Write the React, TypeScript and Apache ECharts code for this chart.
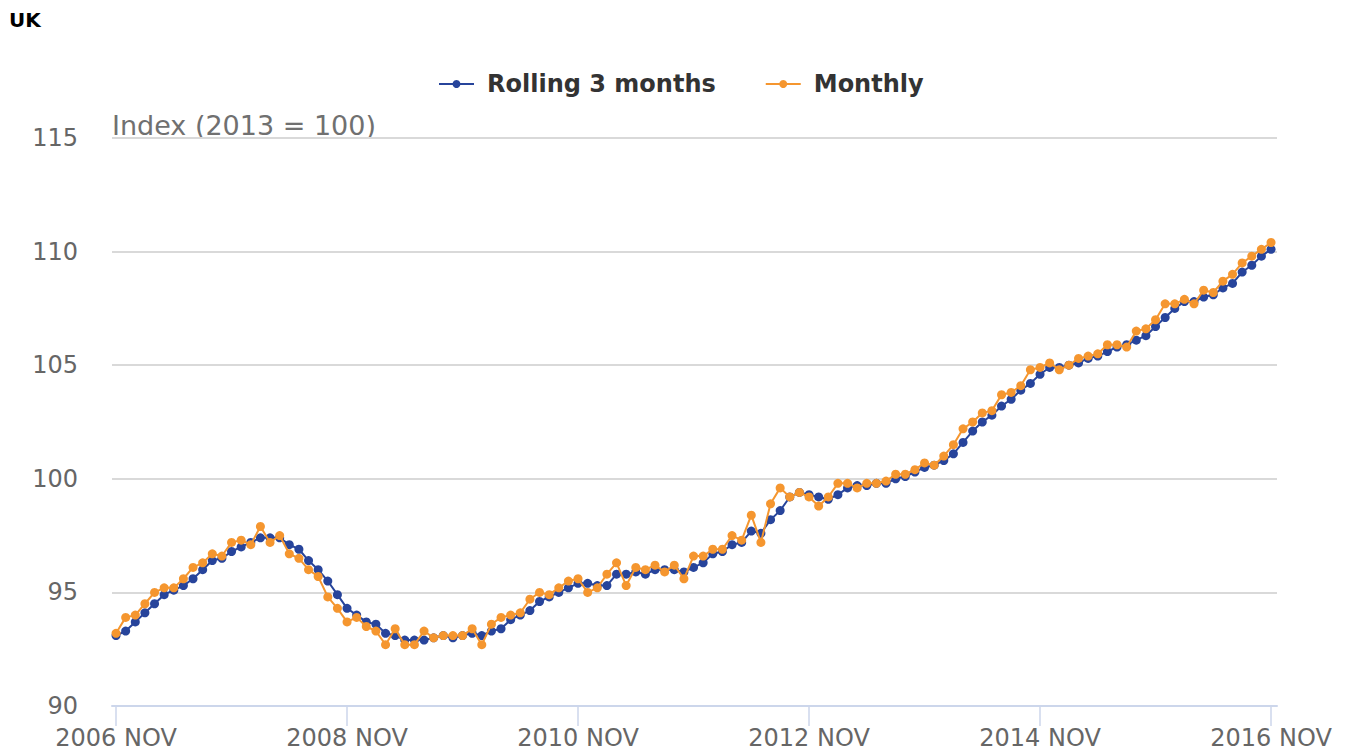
import React, { useEffect, useRef } from "react";
import * as echarts from "echarts";

const MONTHS = ["JAN", "FEB", "MAR", "APR", "MAY", "JUN", "JUL", "AUG", "SEP", "OCT", "NOV", "DEC"];
const START_YEAR = 2006;
const START_MONTH = 10; // NOV
const POINT_COUNT = 121;

const categories: string[] = Array.from({ length: POINT_COUNT }, (_, i) => {
  const m = START_MONTH + i;
  return `${START_YEAR + Math.floor(m / 12)} ${MONTHS[m % 12]}`;
});

const rolling3Months = [
  93.1, 93.3, 93.7, 94.1, 94.5, 94.9, 95.1, 95.3, 95.6, 96.0,
  96.4, 96.5, 96.8, 97.0, 97.2, 97.4, 97.4, 97.4, 97.1, 96.9,
  96.4, 96.0, 95.5, 94.9, 94.3, 94.0, 93.7, 93.6, 93.2, 93.1,
  92.9, 92.9, 92.9, 93.0, 93.1, 93.0, 93.1, 93.2, 93.1, 93.3,
  93.4, 93.8, 94.0, 94.2, 94.6, 94.8, 95.0, 95.2, 95.4, 95.4,
  95.3, 95.3, 95.8, 95.8, 95.9, 95.8, 96.0, 96.0, 96.0, 95.9,
  96.1, 96.3, 96.7, 96.8, 97.1, 97.2, 97.7, 97.6, 98.2, 98.6,
  99.2, 99.4, 99.3, 99.2, 99.1, 99.3, 99.6, 99.7, 99.7, 99.8,
  99.8, 100.0, 100.1, 100.3, 100.5, 100.6, 100.8, 101.1, 101.6, 102.1,
  102.5, 102.8, 103.2, 103.5, 103.9, 104.2, 104.6, 104.9, 104.9, 105.0,
  105.1, 105.3, 105.4, 105.6, 105.8, 105.9, 106.1, 106.3, 106.7, 107.1,
  107.5, 107.8, 107.8, 108.0, 108.1, 108.4, 108.6, 109.1, 109.4, 109.8,
  110.1,
];

const monthly = [
  93.2, 93.9, 94.0, 94.5, 95.0, 95.2, 95.2, 95.6, 96.1, 96.3,
  96.7, 96.6, 97.2, 97.3, 97.1, 97.9, 97.2, 97.5, 96.7, 96.5,
  96.0, 95.7, 94.8, 94.3, 93.7, 93.9, 93.5, 93.3, 92.7, 93.4,
  92.7, 92.7, 93.3, 93.0, 93.1, 93.1, 93.1, 93.4, 92.7, 93.6,
  93.9, 94.0, 94.1, 94.7, 95.0, 94.9, 95.2, 95.5, 95.6, 95.0,
  95.2, 95.8, 96.3, 95.3, 96.1, 96.0, 96.2, 95.9, 96.2, 95.6,
  96.6, 96.6, 96.9, 96.9, 97.5, 97.3, 98.4, 97.2, 98.9, 99.6,
  99.2, 99.4, 99.2, 98.8, 99.2, 99.8, 99.8, 99.6, 99.8, 99.8,
  99.9, 100.2, 100.2, 100.4, 100.7, 100.6, 101.0, 101.5, 102.2, 102.5,
  102.9, 103.0, 103.7, 103.8, 104.1, 104.8, 104.9, 105.1, 104.8, 105.0,
  105.3, 105.4, 105.5, 105.9, 105.9, 105.8, 106.5, 106.6, 107.0, 107.7,
  107.7, 107.9, 107.7, 108.3, 108.2, 108.7, 109.0, 109.5, 109.8, 110.1,
  110.4,
];

const xTickIndexes = [0, 24, 48, 72, 96, 120];
const yTicks = [90, 95, 100, 105, 110, 115];

const BLUE = "#27449b";
const ORANGE = "#f5962f";
const FONT = "DejaVu Sans";

export default function App() {
  const ref = useRef<HTMLDivElement>(null);
  useEffect(() => {
    if (!ref.current) return;
    const chart = echarts.init(ref.current, undefined, { renderer: "svg" });
    chart.setOption({
      animation: false,
      backgroundColor: "#ffffff",
      textStyle: { fontFamily: FONT },
      title: {
        text: "UK",
        left: 4,
        top: 5,
        textStyle: { fontFamily: FONT, fontSize: 20, fontWeight: "bold", color: "#000000" },
      },
      legend: {
        left: 433,
        top: 67,
        itemWidth: 35,
        itemHeight: 10,
        itemGap: 49,
        textStyle: {
          fontFamily: FONT,
          fontSize: 24,
          fontWeight: "bold",
          color: "#333333",
          padding: [0, 0, 0, 8],
        },
        data: ["Rolling 3 months", "Monthly"],
      },
      grid: { left: 112, right: 71, top: 138, bottom: 46, containLabel: false },
      graphic: [
        {
          type: "text",
          left: 112,
          top: 112,
          style: {
            text: "Index (2013 = 100)",
            fontFamily: FONT,
            fontSize: 27,
            fill: "#707070",
          },
        },
      ],
      xAxis: {
        type: "value",
        min: -0.42,
        max: 120.62,
        splitLine: { show: false },
        axisLine: { show: true, lineStyle: { color: "#ccd6eb", width: 2 } },
        axisTick: {
          show: true,
          customValues: xTickIndexes,
          length: 20,
          lineStyle: { color: "#ccd6eb", width: 1.5 },
        },
        axisLabel: {
          customValues: xTickIndexes,
          formatter: (v: number) => categories[Math.round(v)] ?? "",
          fontFamily: FONT,
          fontSize: 24,
          color: "#666666",
          margin: 20,
        },
      },
      yAxis: {
        type: "value",
        min: 90,
        max: 115,
        interval: 5,
        axisLine: { show: false },
        axisTick: { show: false },
        axisLabel: {
          fontFamily: FONT,
          fontSize: 24,
          color: "#666666",
          margin: 34,
          customValues: yTicks,
        },
        splitLine: { show: true, lineStyle: { color: "#d9d9d9", width: 2 } },
      },
      series: [
        {
          name: "Rolling 3 months",
          type: "line",
          data: rolling3Months.map((v, i) => [i, v]),
          symbol: "circle",
          symbolSize: 9,
          showAllSymbol: true,
          lineStyle: { color: BLUE, width: 2 },
          itemStyle: { color: BLUE },
          z: 2,
        },
        {
          name: "Monthly",
          type: "line",
          data: monthly.map((v, i) => [i, v]),
          symbol: "circle",
          symbolSize: 9,
          showAllSymbol: true,
          lineStyle: { color: ORANGE, width: 2 },
          itemStyle: { color: ORANGE },
          z: 3,
        },
      ],
    });
    return () => chart.dispose();
  }, []);
  return (
    <div
      ref={ref}
      style={{ position: "fixed", left: 0, top: 0, width: 1348, height: 752 }}
    />
  );
}
